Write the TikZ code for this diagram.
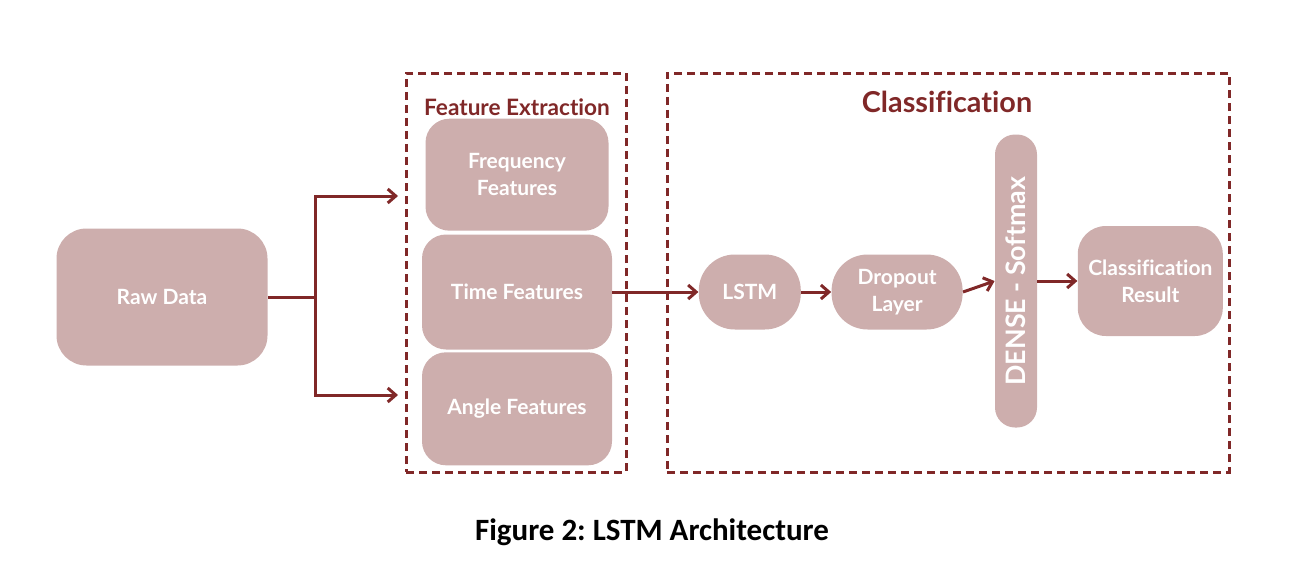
\documentclass[tikz,border=0pt]{standalone}
\usepackage{fontspec}
\usepackage{graphicx}
\setsansfont{Lato}[Ligatures={NoCommon,NoRequired,NoContextual}]
\newfontfamily\capfont{Carlito}
\usetikzlibrary{positioning, arrows.meta}
\definecolor{boxfill}{RGB}{205,174,173}
\definecolor{darkred}{RGB}{128,40,40}
\frenchspacing
\tikzset{
    node distance=1.5pt, % gap between stacked blocks
    block/.style={fill=boxfill, text=white, inner sep=0pt, align=center,
        rounded corners=12pt, font=\sffamily\bfseries\fontsize{10.5}{13.5}\selectfont},
    pill/.style={block, rounded corners=18pt},
    groupbox/.style={draw=darkred, dash pattern=on 4pt off 2.5pt, line width=1.5pt, inner sep=0pt},
    link/.style={draw=darkred, line width=1.5pt},
    flow/.style={link, -{Straight Barb[length=4pt,width=7pt]}},
    grouptitle/.style={text=darkred, font=\sffamily\bfseries},
}

\begin{document}
\begin{tikzpicture}[x=0.5pt, y=-0.5pt]
            \useasboundingbox (0,0) rectangle (1292,578);

            % dashed groups
            \node[groupbox, minimum width=110pt, minimum height=199.5pt] (featbox) at (516,272.5) {};
            \node[groupbox, minimum width=281pt, minimum height=199.5pt] (clsbox) at (948,272.5) {};
            \node[grouptitle, font=\sffamily\bfseries\fontsize{11.3}{13}\selectfont] (feattitle) at (517,107) {Feature Extraction};
            \node[grouptitle, font=\sffamily\bfseries\fontsize{14.4}{16}\selectfont] (clstitle) at (947,102) {Classification};

            % blocks
            \node[block, minimum width=105.5pt, minimum height=68.5pt, rounded corners=15pt] (raw) at (162,297) {Raw Data};
            \node[block, minimum width=95pt, minimum height=57.5pt] (time) at (517,292) {Time Features};
            \node[block, above=of time, minimum width=91.5pt, minimum height=56pt] (freq) {Frequency\\Features};
            \node[block, below=1pt of time, minimum width=95pt, minimum height=56.5pt] (angle) {Angle Features};

            \node[pill, right=43pt of time, minimum width=51pt, minimum height=37.5pt] (lstm) {LSTM};
            \node[pill, right=15pt of lstm, minimum width=65.5pt, minimum height=37.5pt] (drop) {Dropout\\Layer};
            \node[block, rounded corners=10pt, minimum width=21pt, minimum height=146.5pt,
                  font=\sffamily\bfseries\fontsize{13.4}{15}\selectfont] (dense) at (1016,281) {\rotatebox{90}{DENSE - Softmax}};
            \node[block, right=20pt of dense, minimum width=72.5pt, minimum height=55pt, rounded corners=14pt] (result) {Classification\\Result};

            % connectors
            \coordinate (split) at (315,297);
            \coordinate (toFreq) at (398,196);
            \coordinate (toAngle) at (398,395);
            \draw[link] (raw.east) -- (split);
            \draw[flow] (split) |- (toFreq);
            \draw[flow] (split) |- (toAngle);
            \draw[flow] (time.east) -- (lstm.west);
            \draw[flow] (lstm.east) -- (drop.west);
            \draw[flow] (drop.east) -- (dense.west);
            \draw[flow] (dense.east) -- (result.west);

            \node[font=\capfont\bfseries\fontsize{15.5}{18}\selectfont] (caption) at (652,532) {Figure 2: LSTM Architecture};
\end{tikzpicture}
\end{document}
